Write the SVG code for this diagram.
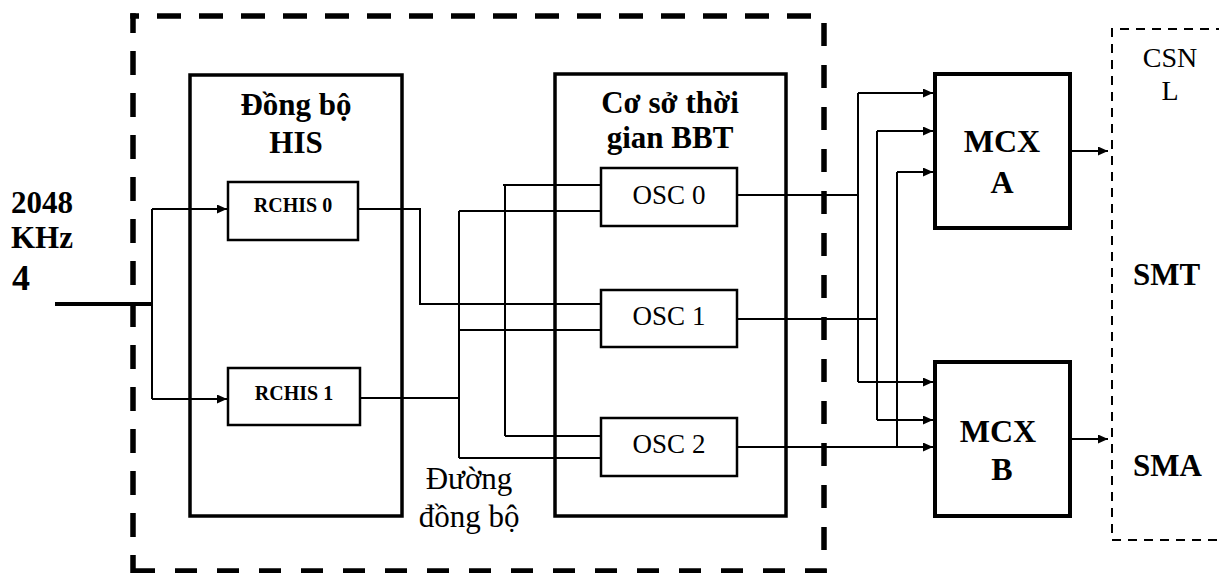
<svg xmlns="http://www.w3.org/2000/svg" width="1219" height="573" viewBox="0 0 1219 573">
<style>
  text { font-family: 'Liberation Serif', 'Times New Roman', serif; fill: #000; }
  .b { font-weight: bold; }
  .big { stroke: #000; stroke-width: 3.5; fill: #fff; }
  .small { stroke: #000; stroke-width: 2.5; fill: #fff; }
  .mcx { stroke: #000; stroke-width: 4; fill: #fff; }
  .ln { stroke: #000; stroke-width: 2; fill: none; }
  .arr { stroke: #000; stroke-width: 2; fill: none; marker-end: url(#ah); }
  .bd { stroke: #000; stroke-width: 5.5; fill: none; }
  .thin { stroke: #000; stroke-width: 2; fill: none; stroke-dasharray: 9 7; }
</style>
<defs>
  <marker id="ah" markerUnits="userSpaceOnUse" markerWidth="10" markerHeight="9" refX="10" refY="4.5" orient="auto">
    <path d="M0,0 L10,4.5 L0,9 z" fill="#000"/>
  </marker>
</defs>
<rect width="1219" height="573" fill="#fff"/>

<g id="boundary">
  <path class="bd" d="M130.25 16 H812" stroke-dasharray="24 18" stroke-dashoffset="15.25"/>
  <path class="bd" d="M133 13.25 V573.75" stroke-dasharray="24 18" stroke-dashoffset="4.25"/>
  <path class="bd" d="M826.75 571 H130.25" stroke-dasharray="22 20" stroke-dashoffset="0.25"/>
  <path class="bd" d="M824 23 V573.75" stroke-dasharray="23 19"/>
</g>

<g id="csnl">
  <path class="thin" d="M1225 29 H1112 V540 H1225"/>
  <text x="1170" y="67" font-size="28" text-anchor="middle">CSN</text>
  <text x="1170" y="100" font-size="28" text-anchor="middle">L</text>
  <text class="b" x="1133" y="285" font-size="31">SMT</text>
  <text class="b" x="1133" y="476" font-size="31">SMA</text>
</g>

<g id="input-label">
  <text class="b" x="11" y="213" font-size="31">2048</text>
  <text class="b" x="11" y="248" font-size="31">KHz</text>
  <text class="b" x="12" y="290" font-size="36">4</text>
</g>

<g id="his">
  <rect class="big" x="190" y="75" width="212" height="441"/>
  <text class="b" x="296" y="115" font-size="31" text-anchor="middle">Đồng bộ</text>
  <text class="b" x="296" y="153" font-size="31" text-anchor="middle">HIS</text>
</g>

<g id="bbt">
  <rect class="big" x="555" y="74" width="231" height="442"/>
  <text class="b" x="670" y="113" font-size="31" text-anchor="middle">Cơ sở thời</text>
  <text class="b" x="670" y="148" font-size="31" text-anchor="middle">gian BBT</text>
</g>

<g id="rchis0">
  <rect class="small" x="228" y="182" width="130" height="58"/>
  <text class="b" x="293" y="212" font-size="20" text-anchor="middle">RCHIS 0</text>
</g>
<g id="rchis1">
  <rect class="small" x="228" y="368" width="132" height="57"/>
  <text class="b" x="294" y="400" font-size="20" text-anchor="middle">RCHIS 1</text>
</g>

<g id="osc0">
  <rect class="small" x="601" y="168" width="136" height="58"/>
  <text x="669" y="204" font-size="27" text-anchor="middle">OSC 0</text>
</g>
<g id="osc1">
  <rect class="small" x="601" y="290" width="136" height="57"/>
  <text x="669" y="325" font-size="27" text-anchor="middle">OSC 1</text>
</g>
<g id="osc2">
  <rect class="small" x="601" y="418" width="136" height="58"/>
  <text x="669" y="453" font-size="27" text-anchor="middle">OSC 2</text>
</g>

<g id="mcxa">
  <rect class="mcx" x="935" y="74" width="135" height="154"/>
  <text class="b" x="1002" y="152" font-size="32" text-anchor="middle">MCX</text>
  <text class="b" x="1002" y="193" font-size="32" text-anchor="middle">A</text>
</g>
<g id="mcxb">
  <rect class="mcx" x="935" y="362" width="135" height="154"/>
  <text class="b" x="998" y="442" font-size="32" text-anchor="middle">MCX</text>
  <text class="b" x="1002" y="480" font-size="32" text-anchor="middle">B</text>
</g>

<g id="sync-label">
  <text x="469" y="489" font-size="31" text-anchor="middle">Đường</text>
  <text x="469" y="527" font-size="31" text-anchor="middle">đồng bộ</text>
</g>

<g id="connectors">
  <path d="M55 304 H152" stroke="#000" stroke-width="4" fill="none"/>
  <path class="ln" d="M152 209 V399"/>
  <path class="arr" d="M152 209 H227"/>
  <path class="arr" d="M152 399 H227"/>

  <path class="ln" d="M358 209 H420 V304 H601"/>
  <path class="ln" d="M360 398 H459"/>
  <path class="ln" d="M459 211 V458"/>
  <path class="ln" d="M459 211 H601"/>
  <path class="ln" d="M459 330 H601"/>
  <path class="ln" d="M459 458 H601"/>
  <path class="ln" d="M505 185 V436"/>
  <path class="ln" d="M503 185 H601"/>
  <path class="ln" d="M505 436 H601"/>

  <path class="ln" d="M737 195 H858"/>
  <path class="ln" d="M858 93 V382"/>
  <path class="arr" d="M858 93 H933"/>
  <path class="arr" d="M858 382 H933"/>

  <path class="ln" d="M737 319 H877"/>
  <path class="ln" d="M877 131 V420"/>
  <path class="arr" d="M877 131 H933"/>
  <path class="arr" d="M877 420 H933"/>

  <path class="arr" d="M737 447 H933"/>
  <path class="ln" d="M897 172 V447"/>
  <path class="arr" d="M897 172 H933"/>

  <path class="arr" d="M1072 151 H1108"/>
  <path class="arr" d="M1072 439 H1108"/>
</g>
</svg>
